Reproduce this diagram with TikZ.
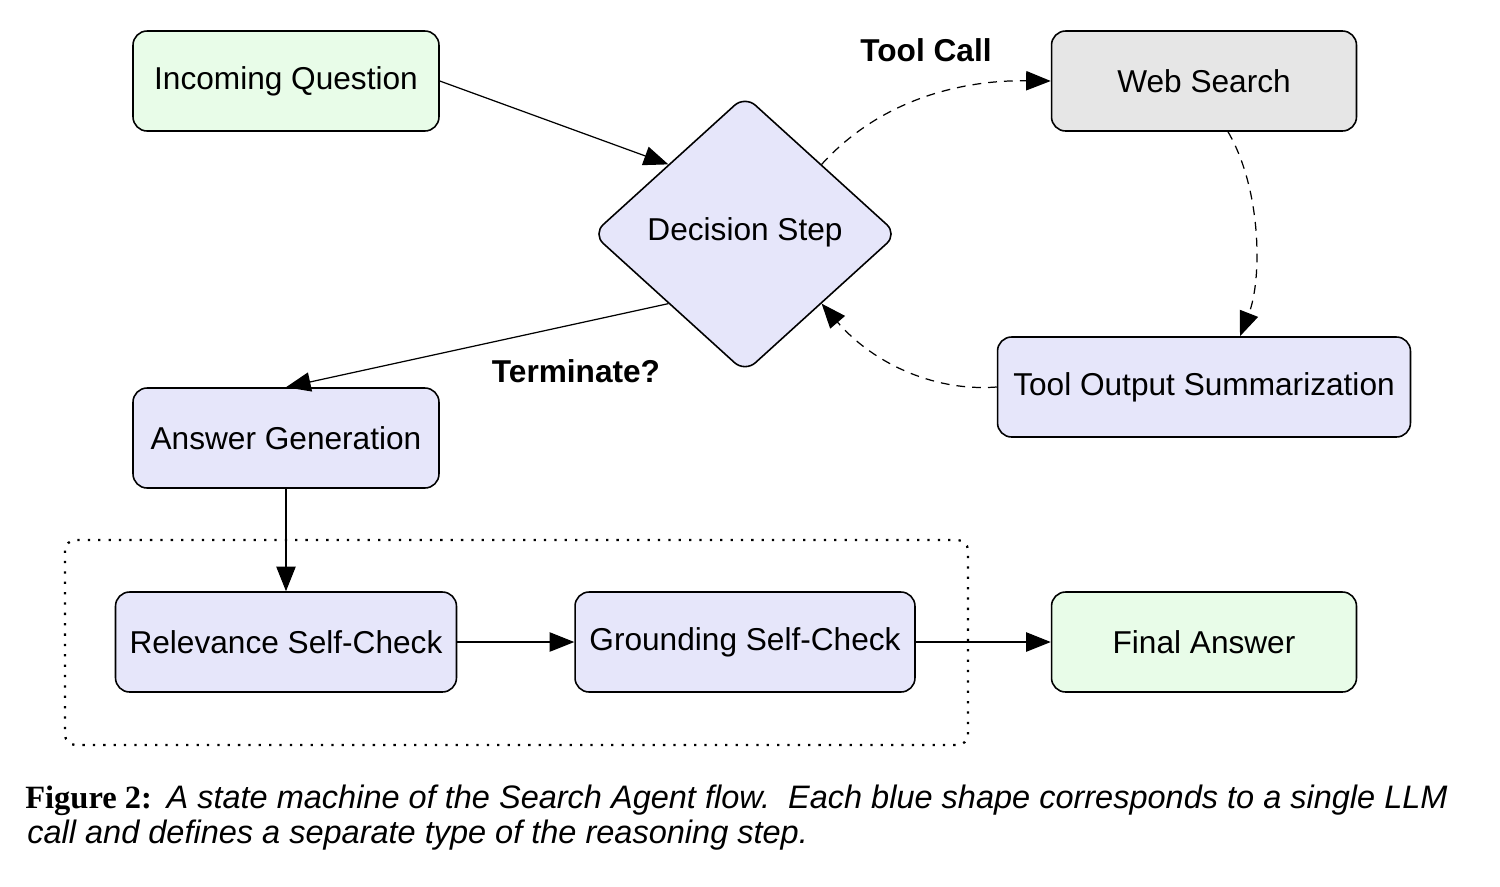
\documentclass[tikz,border=0pt]{standalone}
\usepackage{fontspec}
\setmainfont{Liberation Sans}
\newfontfamily\capserif{Liberation Serif}
\usetikzlibrary{shapes.geometric,arrows.meta,calc}
\definecolor{bluefill}{HTML}{E6E6FA}
\definecolor{greenfill}{HTML}{E8FCE8}
\definecolor{grayfill}{HTML}{E6E6E6}
\begin{document}
\begin{tikzpicture}[x=0.02cm,y=-0.02cm,
  font=\fontsize{18}{21.6}\selectfont,
  box/.style={draw, line width=0.9pt, rounded corners=8pt, minimum height=2cm, inner sep=0pt, align=center},
  bluebox/.style={box, fill=bluefill},
  greenbox/.style={box, fill=greenfill},
  graybox/.style={box, fill=grayfill},
  conn/.style={line width=0.7pt, -{Triangle[length=14pt,width=11pt]}},
  dconn/.style={conn, dash pattern=on 5pt off 4pt},
  lbl/.style={font=\fontsize{18}{21.6}\selectfont\bfseries, inner sep=0pt},
  captext/.style={anchor=base west, inner sep=0pt, font=\fontsize{18.5}{22}\selectfont}
]
\useasboundingbox (0,0) rectangle (1500,886);
% dotted group
\draw[line width=1.3pt, dash pattern=on 1.3pt off 4.6pt, rounded corners=6pt] (65,540) rectangle (968,745);
% nodes
\node[greenbox, minimum width=6.12cm] (iq) at (286,81) {Incoming Question};
\node[graybox, minimum width=6.1cm] (ws) at (1204,81) {Web Search};
\node[draw, line width=0.9pt, fill=bluefill, diamond, minimum width=6.1cm, minimum height=5.54cm, inner sep=0pt, rounded corners=8pt] (ds) at (745,234) {};
\node[inner sep=0pt] (dst) at (745,232) {Decision Step};
\node[bluebox, minimum width=8.26cm] (to) at (1204,387) {Tool Output Summarization};
\node[bluebox, minimum width=6.12cm] (ag) at (286,438) {Answer Generation};
\node[bluebox, minimum width=6.82cm] (rs) at (286,642) {Relevance Self-Check};
\node[bluebox, minimum width=6.8cm] (gs) at (745,642) {Grounding Self-Check};
\node[greenbox, minimum width=6.1cm] (fa) at (1204,642) {Final Answer};
% labels
\node[lbl] (tc) at (926,50) {Tool Call};
\node[lbl] (tm) at (576,371) {Terminate?};
% anchor points on the diamond
\coordinate (ul) at ($(ds.west)!0.5!(ds.north)$);
\coordinate (ur) at ($(ds.east)!0.5!(ds.north)$);
\coordinate (ll) at ($(ds.west)!0.5!(ds.south)$);
\coordinate (lr) at ($(ds.east)!0.5!(ds.south)$);
\coordinate (wsb) at ($(ws.south)+(24,0)$);
\coordinate (tot) at ($(to.north)+(36,0)$);
% connectors
\draw[conn] (iq.east) -- (ul);
\draw[dconn] (ur) .. controls (880,100) and (960,80) .. (ws.west);
\draw[dconn] (wsb) .. controls (1262,190) and (1262,280) .. (tot);
\draw[dconn] (to.west) .. controls (930,392) and (870,360) .. (lr);
\draw[conn] (ll) -- (ag.north);
\draw[conn] (ag.south) -- (rs.north);
\draw[conn] (rs.east) -- (gs.west);
\draw[conn] (gs.east) -- (fa.west);
% caption
\node[captext] (cap1) at (25,808) {{\capserif\bfseries Figure 2:}\hspace{0.45em}\itshape A state machine of the Search Agent flow.\ \ Each blue shape corresponds to a single LLM};
\node[captext] (cap2) at (27,843) {\itshape call and defines a separate type of the reasoning step.};
\end{tikzpicture}
\end{document}
